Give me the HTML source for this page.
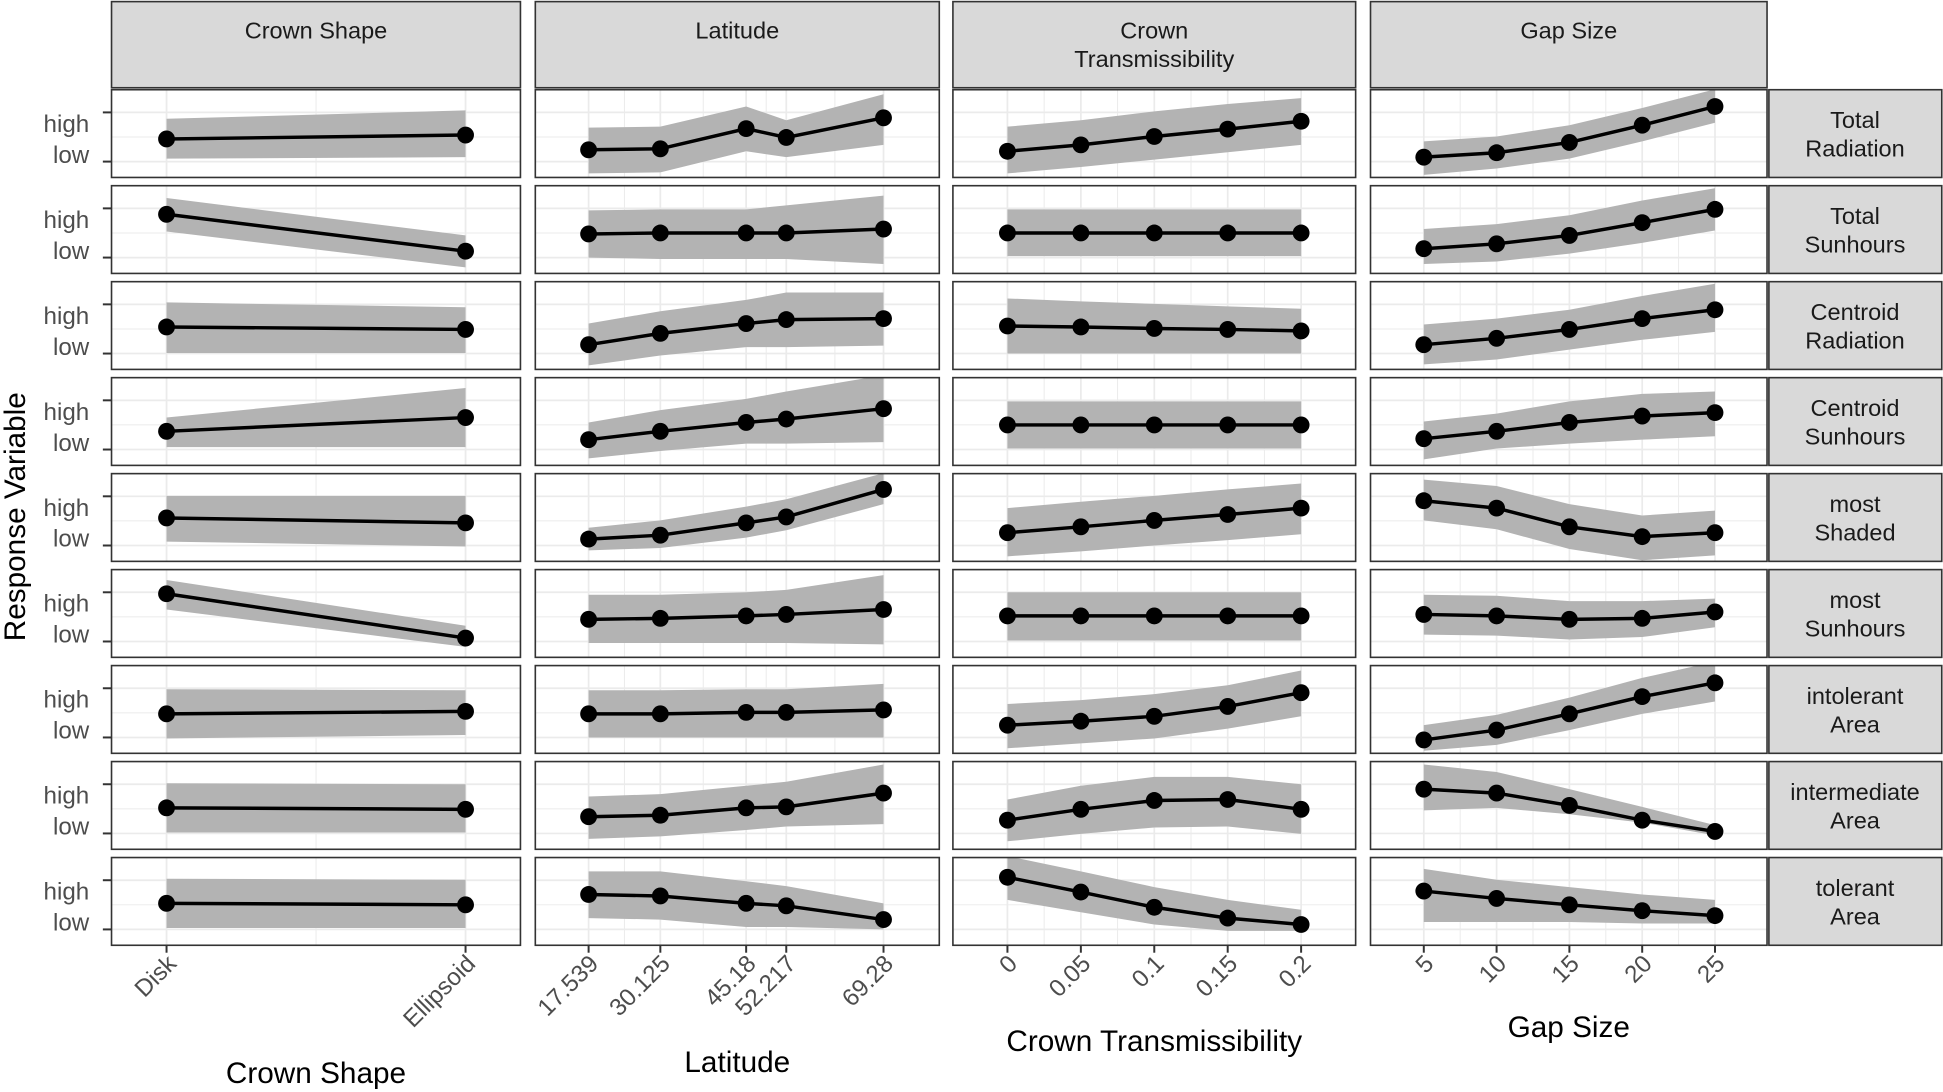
<!DOCTYPE html>
<html><head><meta charset="utf-8"><style>
html,body{margin:0;padding:0;background:#fff;}
svg{display:block;font-family:"Liberation Sans",Arial,sans-serif;}
</style></head><body>
<svg id="chart" width="1943" height="1092" viewBox="0 0 1568 881.2" preserveAspectRatio="none" xmlns="http://www.w3.org/2000/svg"></svg>
<script>
// ---- data ----
const rowLabels = [["Total","Radiation"],["Total","Sunhours"],["Centroid","Radiation"],["Centroid","Sunhours"],["most","Shaded"],["most","Sunhours"],["intolerant","Area"],["intermediate","Area"],["tolerant","Area"]];
const colTitles = [["Crown Shape"],["Latitude"],["Crown","Transmissibility"],["Gap Size"]];
const axisTitles = ["Crown Shape","Latitude","Crown Transmissibility","Gap Size"];
const crownCats = ["Disk","Ellipsoid"];
const latVals = [17.539,30.125,45.18,52.217,69.28];
const latTicks = ["17.539","30.125","45.18","52.217","69.28"];
const ctVals = [0,0.05,0.1,0.15,0.2];
const ctTicks = ["0","0.05","0.1","0.15","0.2"];
const gapVals = [5,10,15,20,25];
const gapTicks = ["5","10","15","20","25"];

const crownFit = [[0.46,0.54],[0.88,0.13],[0.54,0.49],[0.37,0.65],[0.56,0.46],[0.97,0.07],[0.48,0.53],[0.52,0.49],[0.53,0.5]];
const crownUp  = [[0.87,1.04],[1.21,0.45],[1.04,0.94],[0.65,1.25],[1.01,1.01],[1.25,0.32],[0.98,0.96],[1.02,1.0],[1.03,1.01]];
const crownLo  = [[0.06,0.09],[0.53,-0.2],[0.01,0.01],[0.05,0.05],[0.08,-0.02],[0.65,-0.11],[-0.02,0.05],[0.02,0.02],[0.03,0.03]];

const latFit = [[0.24,0.26,0.67,0.49,0.89],[0.48,0.5,0.5,0.5,0.58],[0.18,0.41,0.61,0.69,0.71],[0.2,0.37,0.55,0.62,0.83],[0.13,0.21,0.46,0.58,1.14],[0.45,0.47,0.52,0.55,0.65],[0.48,0.48,0.51,0.51,0.56],[0.34,0.37,0.52,0.54,0.82],[0.71,0.68,0.53,0.48,0.2]];
const latUp  = [[0.69,0.71,1.12,0.84,1.37],[0.96,0.98,0.98,1.06,1.26],[0.61,0.86,1.09,1.24,1.24],[0.55,0.8,1.03,1.18,1.51],[0.36,0.51,0.79,0.94,1.47],[0.95,0.95,1.0,1.05,1.35],[0.96,0.96,0.98,0.98,1.09],[0.75,0.8,0.97,1.05,1.4],[1.18,1.18,0.98,0.88,0.53]];
const latLo  = [[-0.24,-0.22,0.21,0.09,0.34],[0,-0.03,-0.03,-0.03,-0.13],[-0.24,-0.04,0.13,0.13,0.16],[-0.18,-0.03,0.12,0.12,0.15],[-0.1,-0.05,0.16,0.31,0.84],[-0.03,-0.03,-0.03,-0.03,-0.06],[0,0,0,0,0],[-0.11,-0.06,0.07,0.14,0.19],[0.23,0.2,0.05,0.05,0]];

const ctFit = [[0.21,0.34,0.51,0.66,0.82],[0.5,0.5,0.5,0.5,0.5],[0.56,0.54,0.51,0.49,0.46],[0.5,0.5,0.5,0.5,0.5],[0.26,0.38,0.51,0.63,0.76],[0.52,0.52,0.52,0.52,0.52],[0.25,0.33,0.43,0.63,0.91],[0.27,0.49,0.67,0.69,0.49],[1.06,0.76,0.45,0.23,0.1]];
const ctUp  = [[0.71,0.84,1.02,1.17,1.29],[0.98,0.98,0.98,0.98,0.98],[1.12,1.06,1.01,0.96,0.91],[0.98,0.98,0.98,0.98,0.98],[0.76,0.89,1.01,1.14,1.26],[1.0,1.0,1.0,1.0,1.0],[0.68,0.76,0.88,1.06,1.36],[0.69,0.97,1.15,1.15,1.0],[1.49,1.18,0.86,0.6,0.4]];
const ctLo  = [[-0.24,-0.11,0.04,0.19,0.34],[0.03,0.03,0.03,0.03,0.03],[0,0,0,0,0],[0.02,0.02,0.02,0.02,0.02],[-0.22,-0.12,0,0.11,0.23],[0.02,0.02,0.02,0.02,0.02],[-0.22,-0.12,-0.02,0.18,0.43],[-0.16,-0.01,0.12,0.14,-0.01],[0.6,0.35,0.1,-0.03,-0.03]];

const gapFit = [[0.09,0.18,0.39,0.74,1.12],[0.18,0.28,0.45,0.71,0.98],[0.18,0.31,0.49,0.71,0.89],[0.22,0.37,0.55,0.68,0.75],[0.91,0.76,0.38,0.18,0.26],[0.55,0.52,0.45,0.47,0.6],[-0.05,0.15,0.48,0.83,1.11],[0.9,0.82,0.57,0.27,0.04],[0.78,0.63,0.5,0.38,0.28]];
const gapUp  = [[0.41,0.51,0.74,1.09,1.47],[0.58,0.68,0.86,1.16,1.41],[0.59,0.71,0.89,1.17,1.42],[0.57,0.73,0.98,1.13,1.18],[1.34,1.21,0.84,0.61,0.71],[0.95,0.93,0.82,0.82,0.87],[0.25,0.46,0.81,1.21,1.54],[1.4,1.25,0.9,0.54,0.17],[1.23,1.01,0.86,0.71,0.6]];
const gapLo  = [[-0.27,-0.14,0.06,0.41,0.79],[-0.13,-0.08,0.08,0.3,0.55],[-0.22,-0.12,0.08,0.28,0.44],[-0.2,0.02,0.12,0.2,0.27],[0.51,0.33,-0.07,-0.3,-0.2],[0.14,0.12,0.04,0.09,0.29],[-0.27,-0.15,0.15,0.48,0.73],[0.47,0.52,0.39,0.22,-0.04],[0.15,0.15,0.15,0.12,0.12]];

// ---- layout ----
const NS="http://www.w3.org/2000/svg";
const svg=document.getElementById('chart');
function mk(tag,attrs,parent){const e=document.createElementNS(NS,tag);for(const k in attrs)e.setAttribute(k,attrs[k]);(parent||svg).appendChild(e);return e;}
const cols=[{x0:90,x1:420,d0:0,d1:1,p0:134.4,p1:375.7},{x0:432,x1:758,d0:17.539,d1:69.28,p0:475,p1:713},{x0:769,x1:1094,d0:0,d1:0.2,p0:813,p1:1050},{x0:1106,x1:1426,d0:5,d1:25,p0:1149,p1:1384}];
const colX=[[0,1],latVals,ctVals,gapVals];
const colTicks=[crownCats,latTicks,ctTicks,gapTicks];
const fits=[crownFit,latFit,ctFit,gapFit],ups=[crownUp,latUp,ctUp,gapUp],los=[crownLo,latLo,ctLo,gapLo];
const rowTop0=72.4,rowPitch=77.45,rowH=70.8;
function xs(c,v){const C=cols[c];return C.p0+(v-C.d0)/(C.d1-C.d0)*(C.p1-C.p0);}
function ys(r,v){const top=rowTop0+r*rowPitch;const lo=top+58,hi=top+18.3;return lo-v*(lo-hi);}

// column strips
colTitles.forEach((t,c)=>{
  const C=cols[c];
  const g=mk('g',{});
  
  
  mk('rect',{x:C.x0,y:1.3,width:C.x1-C.x0,height:69.5,fill:'#d9d9d9',stroke:'#333','stroke-width':1.3},g);
  t.forEach((line,i)=>{const tx=mk('text',{x:(C.x0+C.x1)/2,y:31+i*23,'text-anchor':'middle','font-size':19,fill:'#1a1a1a'},g);tx.textContent=line;});
});

for(let r=0;r<9;r++){
  const top=rowTop0+r*rowPitch;
  const rg=mk('g',{});
  
  
  mk('rect',{x:1427.5,y:top,width:139.5,height:rowH,fill:'#d9d9d9',stroke:'#333','stroke-width':1.3},rg);
  rowLabels[r].forEach((line,i)=>{const tx=mk('text',{x:1497,y:top+31+i*23,'text-anchor':'middle','font-size':19,fill:'#1a1a1a'},rg);tx.textContent=line;});
  const yl=mk('g',{});
  
  
  mk('line',{x1:83,x2:90,y1:ys(r,1),y2:ys(r,1),stroke:'#333','stroke-width':1.6},yl);
  mk('line',{x1:83,x2:90,y1:ys(r,0),y2:ys(r,0),stroke:'#333','stroke-width':1.6},yl);
  const th=mk('text',{x:72,y:top+34,'text-anchor':'end','font-size':19.5,fill:'#4d4d4d'},yl);th.textContent='high';
  const tl=mk('text',{x:72,y:top+59,'text-anchor':'end','font-size':19.5,fill:'#4d4d4d'},yl);tl.textContent='low';

  for(let c=0;c<4;c++){
    const C=cols[c];
    const pg=mk('g',{});
    
    
    mk('rect',{x:C.x0,y:top,width:C.x1-C.x0,height:rowH,fill:'#fff'},pg);
    [0,0.5,1].forEach(v=>mk('line',{x1:C.x0,x2:C.x1,y1:ys(r,v),y2:ys(r,v),stroke:'#ebebeb','stroke-width':v===0.5?0.8:1.4},pg));
    const xv=colX[c];
    for(let i=0;i<xv.length-1;i++){const m=(xs(c,xv[i])+xs(c,xv[i+1]))/2;mk('line',{x1:m,x2:m,y1:top,y2:top+rowH,stroke:'#ebebeb','stroke-width':0.8},pg);}
    xv.forEach(v=>mk('line',{x1:xs(c,v),x2:xs(c,v),y1:top,y2:top+rowH,stroke:'#ebebeb','stroke-width':1.4},pg));
    const cp=mk('clipPath',{id:'cp'+r+'_'+c},pg);
    mk('rect',{x:C.x0,y:top,width:C.x1-C.x0,height:rowH},cp);
    const dg=mk('g',{'clip-path':'url(#cp'+r+'_'+c+')'},pg);
    const up=ups[c][r],lo=los[c][r],fit=fits[c][r];
    let d='';
    xv.forEach((v,i)=>{d+=(i?'L':'M')+xs(c,v)+','+ys(r,up[i]);});
    for(let i=xv.length-1;i>=0;i--)d+='L'+xs(c,xv[i])+','+ys(r,lo[i]);
    const rib=mk('path',{d:d+'Z',fill:'#b3b3b3'},dg);
    
    
    const ln=mk('polyline',{points:xv.map((v,i)=>xs(c,v)+','+ys(r,fit[i])).join(' '),fill:'none',stroke:'#000','stroke-width':2.8},dg);
    
    
    xv.forEach((v,i)=>{
      const pt=mk('circle',{cx:xs(c,v),cy:ys(r,fit[i]),r:6.8,fill:'#000'},dg);
      
      
    });
    mk('rect',{x:C.x0,y:top,width:C.x1-C.x0,height:rowH,fill:'none',stroke:'#333','stroke-width':1.3},pg);
  }
}

// x axes
const bottom=rowTop0+8*rowPitch+rowH;
const titleY=[874,865,848,837];
for(let c=0;c<4;c++){
  const xg=mk('g',{});
  
  
  colX[c].forEach((v,i)=>{
    const x=xs(c,v);
    mk('line',{x1:x,x2:x,y1:bottom,y2:bottom+6,stroke:'#333','stroke-width':1.6},xg);
    const t=mk('text',{x:0,y:0,'text-anchor':'end','font-size':19.5,fill:'#4d4d4d',transform:'translate('+(x+9)+','+(bottom+16)+') rotate(-45)'},xg);
    t.textContent=colTicks[c][i];
  });
  const at=mk('text',{x:(cols[c].x0+cols[c].x1)/2,y:titleY[c],'text-anchor':'middle','font-size':24,fill:'#000'});
  
  
  at.textContent=axisTitles[c];
}
const yt=mk('text',{x:0,y:0,'text-anchor':'middle','font-size':24,fill:'#000',transform:'translate(20,417) rotate(-90)'});


yt.textContent='Response Variable';
</script>
</body></html>
